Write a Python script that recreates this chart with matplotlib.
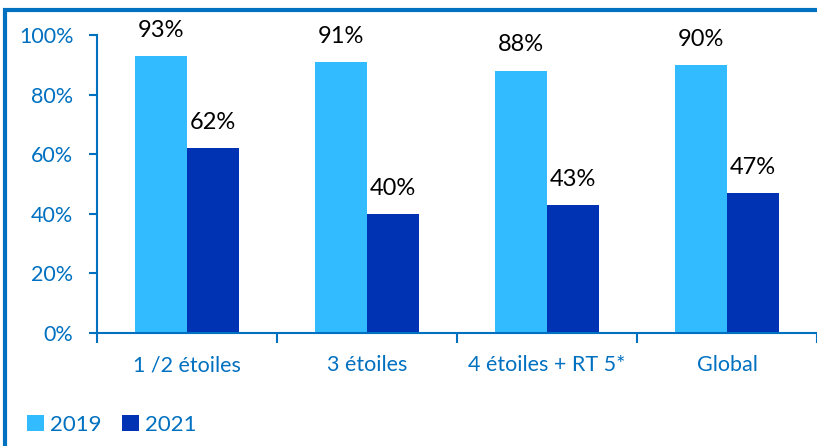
import matplotlib
matplotlib.use("Agg")
import matplotlib.pyplot as plt
from matplotlib.patches import Rectangle
import numpy as np

# data
categories = ["1 /2 étoiles", "3 étoiles", "4 étoiles + RT 5*", "Global"]
values_2019 = [93, 91, 88, 90]
values_2021 = [62, 40, 43, 47]
series_labels = ["2019", "2021"]

BLUE = "#0070C0"
LIGHT = "#33BBFF"
DARK = "#0033B3"

plt.rcParams["font.family"] = ["Lato", "DejaVu Sans"]

fig = plt.figure(figsize=(8.17, 4.46), dpi=100)
ax = fig.add_axes([97 / 817, 113 / 446, 720 / 817, 298 / 446])

x = np.arange(len(categories))
w = 0.29
b1 = ax.bar(x - w / 2, np.array(values_2019) / 100, w, color=LIGHT, label=series_labels[0])
b2 = ax.bar(x + w / 2, np.array(values_2021) / 100, w, color=DARK, label=series_labels[1])

for bars, vals in [(b1, values_2019), (b2, values_2021)]:
    for r, v in zip(bars, vals):
        ax.annotate(f"{v}%", (r.get_x() + r.get_width() / 2, r.get_height()),
                    xytext=(0, 11), textcoords="offset points",
                    ha="center", va="bottom", fontsize=17, color="black")

ax.set_xlim(-0.5, len(categories) - 0.5)
ax.set_ylim(0, 1)
ax.set_yticks(np.linspace(0, 1, 6))
ax.set_yticklabels([f"{int(t * 100)}%" for t in np.linspace(0, 1, 6)])
ax.set_xticks(x)
ax.set_xticklabels(categories)
ax.set_xticks(np.arange(len(categories) + 1) - 0.5, minor=True)
ax.tick_params(axis="x", which="major", length=0, pad=16, labelsize=15.5, labelcolor=BLUE)
ax.tick_params(axis="x", which="minor", length=7, width=1.5, color=BLUE)
ax.tick_params(axis="y", length=6, width=1.5, color=BLUE, labelsize=15.5, labelcolor=BLUE, pad=11)

for s in ["top", "right"]:
    ax.spines[s].set_visible(False)
for s in ["left", "bottom"]:
    ax.spines[s].set_color(BLUE)
    ax.spines[s].set_linewidth(1.5)

leg = fig.legend(loc="center left", bbox_to_anchor=(27 / 817, 21 / 446), ncol=2, frameon=False,
                 fontsize=16, handlelength=0.75, handleheight=0.75, handletextpad=0.3,
                 columnspacing=0.9, borderpad=0, borderaxespad=0)
for t in leg.get_texts():
    t.set_color(BLUE)

# outer frame (runs off the right and bottom edges)
fig.patches.append(Rectangle((5 / 817, -0.1), 1.2, (436 / 446) + 0.1, transform=fig.transFigure,
                             fill=False, edgecolor=BLUE, linewidth=3))

fig.savefig("out.png", dpi=100)
